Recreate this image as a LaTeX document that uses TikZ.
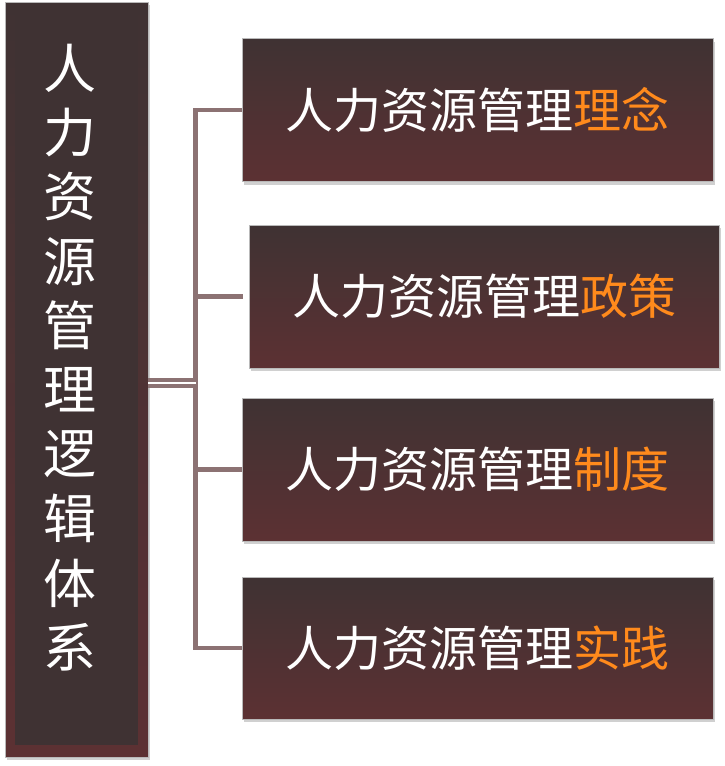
\documentclass[tikz,border=0pt]{standalone}
\usepackage{fontspec}
\newfontfamily\cjk{Noto Sans CJK SC}
\usetikzlibrary{shadows}
\definecolor{boxtop}{HTML}{3F3233}
\definecolor{boxbot}{HTML}{5C3133}
\definecolor{linkcol}{HTML}{8C7273}
\definecolor{hilite}{HTML}{FF8A1C}
\newcommand{\hl}[1]{\textcolor{hilite}{#1}}
\tikzset{
  panel/.style={rectangle, draw=gray!55, line width=0.8pt, top color=boxtop,
    bottom color=boxbot, inner sep=0pt, text=white,
    drop shadow={shadow xshift=2pt, shadow yshift=-3pt, opacity=0.3, fill=black!60}},
  topic/.style={panel, minimum width=471pt, minimum height=143pt,
    font=\cjk\fontsize{48}{58}\selectfont},
  link/.style={draw=linkcol, line width=4.5pt}
}
\begin{document}
\begin{tikzpicture}[x=1pt,y=-1pt]
  \useasboundingbox[fill=white] (0,0) rectangle (725,766);
  % left column
  \node[panel, minimum width=143pt, minimum height=755pt] (main) at (76.5,379.5) {};
  \fill[boxtop] ([xshift=10pt,yshift=-12pt]main.north west) rectangle
    ([xshift=-10pt,yshift=12pt]main.south east);
  \foreach \c [count=\i from 0] in {人,力,资,源,管,理,逻,辑,体,系}
    \node[text=white, inner sep=0pt, font=\cjk\fontsize{53}{60}\selectfont]
      (ch\i) at (70,68+64.4*\i) {\c};
  % right boxes
  \node[topic] (idea) at (477.5,110) {人力资源管理\hl{理念}};
  \node[topic, minimum width=470pt] (policy) at (484,296.5) {人力资源管理\hl{政策}};
  \node[topic] (rule) at (477.5,469.5) {人力资源管理\hl{制度}};
  \node[topic, minimum height=142pt] (practice) at (477.5,648) {人力资源管理\hl{实践}};
  % connectors
  \coordinate (bus) at (195.5,383);
  \draw[link] (idea.west) -- (bus |- idea.west) -- (bus |- practice.west) -- (practice.west);
  \draw[link, shorten <=6pt] (policy.west) -- (bus |- policy.west);
  \draw[link] (rule.west) -- (bus |- rule.west);
  \draw[link, line width=4pt, double=white, double distance=2pt] (main.east |- bus) -- (bus);
\end{tikzpicture}
\end{document}
